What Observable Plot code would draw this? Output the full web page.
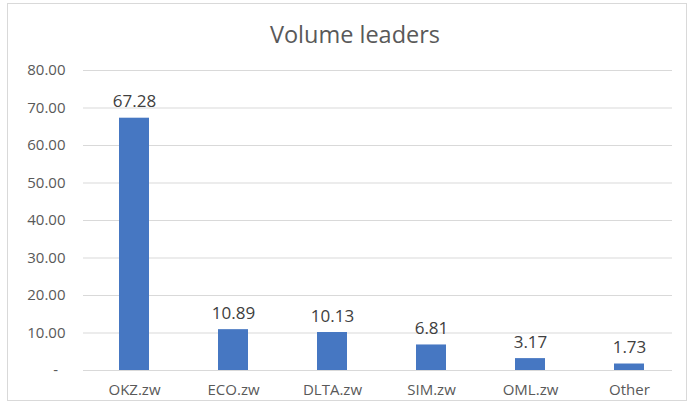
<!DOCTYPE html>
<html>
<head>
<meta charset="utf-8">
<script src="https://cdn.jsdelivr.net/npm/d3@7"></script>
<script src="https://cdn.jsdelivr.net/npm/@observablehq/plot@0.6"></script>
<style>
  html, body { margin: 0; padding: 0; background: #fff; }
  #frame { position: absolute; left: 7px; top: 3px; width: 680px; height: 398px; border: 1px solid #d9d9d9; box-sizing: border-box; }
  #wrap { position: absolute; left: 0; top: 0; width: 692px; height: 406px; }
  #title { position: absolute; left: 0; top: 0; width: 692px; height: 50px; text-align: center; font: 23.5px "Open Sans", sans-serif; color: #595959; line-height: 68px; padding-left: 18px; box-sizing: border-box; }
  #chart { position: absolute; left: 0; top: 50px; }
</style>
</head>
<body>
<div id="wrap">
  <div id="frame"></div>
  <div id="title">Volume leaders</div>
  <div id="chart"></div>
</div>
<script>
const categories = ["OKZ.zw", "ECO.zw", "DLTA.zw", "SIM.zw", "OML.zw", "Other"];
const volumes = [67.28, 10.89, 10.13, 6.81, 3.17, 1.73];
const yTicks = [0, 10, 20, 30, 40, 50, 60, 70, 80];

const data = categories.map((c, i) => ({name: c, value: volumes[i]}));

const chart = Plot.plot({
  width: 692,
  height: 356,
  marginTop: 20,
  marginBottom: 36,
  marginLeft: 83,
  marginRight: 20,
  style: {fontFamily: "'Open Sans', sans-serif", background: "transparent"},
  x: {domain: categories, range: [83, 680], paddingInner: 0.7, paddingOuter: 0.35, label: null},
  y: {domain: [0, 80], label: null},
  marks: [
    Plot.gridY(yTicks, {stroke: "#d9d9d9", strokeOpacity: 1}),
    Plot.axisY(yTicks, {
      tickSize: 0, tickPadding: 18, fontSize: 15, fill: "#595959",
      tickFormat: d => d === 0 ? "-\u2002" : d.toFixed(2)
    }),
    Plot.axisX({tickSize: 0, tickPadding: 14, fontSize: 15, fill: "#595959"}),
    Plot.barY(data, {x: "name", y: "value", fill: "#4677c2"}),
    Plot.text(data, {
      x: "name", y: "value", text: d => d.value.toFixed(2),
      lineAnchor: "bottom", dy: -11, fontSize: 17, fill: "#404040"
    })
  ]
});
document.getElementById("chart").appendChild(chart);
</script>
</body>
</html>
